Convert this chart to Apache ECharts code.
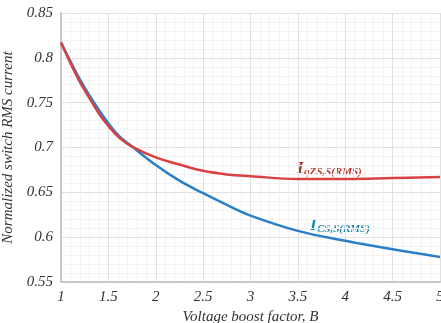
<!DOCTYPE html>
<html><head><meta charset="utf-8">
<script src="https://cdn.jsdelivr.net/npm/echarts@6/dist/echarts.min.js"></script>
<style>html,body{margin:0;padding:0;background:#fff}#c{width:441px;height:323px}</style>
</head><body><div id="c"></div>
<script>
var boost = [1, 1.1, 1.2, 1.3, 1.4, 1.5, 1.62, 1.75, 2, 2.25, 2.5, 2.75, 3, 3.5, 4, 4.5, 5];
var csRms = [0.817, 0.796, 0.776, 0.758, 0.742, 0.727, 0.712, 0.701, 0.6805, 0.663, 0.649, 0.636, 0.624, 0.607, 0.596, 0.5865, 0.578];
var qzsRms = [0.817, 0.794, 0.773, 0.755, 0.738, 0.724, 0.7105, 0.701, 0.689, 0.681, 0.674, 0.670, 0.668, 0.665, 0.665, 0.666, 0.667];
var xTicks = ['1', '1.5', '2', '2.5', '3', '3.5', '4', '4.5', '5'];
var yTicks = ['0.55', '0.6', '0.65', '0.7', '0.75', '0.8', '0.85'];

var font = "'Liberation Serif'";
var chart = echarts.init(document.getElementById('c'));
function pairs(ys) { return boost.map(function (b, i) { return [b, ys[i]]; }); }
function lbl(x, y, size, color, text) {
  return { type: 'text', x: x, y: y, silent: true,
    style: { text: text, fontFamily: font, fontStyle: 'italic', fontWeight: 'bold', fontSize: size,
      fill: color, verticalAlign: 'bottom', align: 'left' } };
}
chart.setOption({
  animation: false,
  grid: { left: 61, right: 1, top: 13, bottom: 41, outerBoundsMode: 'none', containLabel: false },
  xAxis: {
    type: 'value', min: 1, max: 5, interval: 0.5,
    name: 'Voltage boost factor, B', nameLocation: 'middle', nameGap: 25,
    nameTextStyle: { fontFamily: font, fontStyle: 'italic', fontSize: 15, color: '#333' },
    axisLine: { show: true, lineStyle: { color: '#c8c8c8', width: 2 } },
    axisTick: { show: false },
    axisLabel: { fontFamily: font, fontStyle: 'italic', fontSize: 15, color: '#333', margin: 8,
      formatter: function (v) { var i = Math.round((v - 1) / 0.5); return xTicks[i]; } },
    splitLine: { show: true, lineStyle: { color: '#e0e0e0', width: 1 } },
    minorTick: { show: false, splitNumber: 5 },
    minorSplitLine: { show: true, lineStyle: { color: '#f2f2f2', width: 1 } }
  },
  yAxis: {
    type: 'value', min: 0.55, max: 0.85, interval: 0.05,
    name: 'Normalized switch RMS current', nameLocation: 'middle', nameGap: 40,
    nameTextStyle: { fontFamily: font, fontStyle: 'italic', fontSize: 15, color: '#333' },
    axisLine: { show: true, lineStyle: { color: '#c8c8c8', width: 2 } },
    axisTick: { show: false },
    axisLabel: { fontFamily: font, fontStyle: 'italic', fontSize: 15, color: '#333', margin: 8,
      formatter: function (v) { var i = Math.round((v - 0.55) / 0.05); return yTicks[i]; } },
    splitLine: { show: true, lineStyle: { color: '#e0e0e0', width: 1 } },
    minorTick: { show: false, splitNumber: 5 },
    minorSplitLine: { show: true, lineStyle: { color: '#f2f2f2', width: 1 } }
  },
  series: [
    { type: 'line', data: pairs(csRms), smooth: 0.4, symbol: 'none',
      lineStyle: { color: '#2b7fc6', width: 2.5 } },
    { type: 'line', data: pairs(qzsRms), smooth: 0.4, symbol: 'none',
      lineStyle: { color: '#db4040', width: 2.5 } }
  ],
  graphic: [
    lbl(297, 177, 17, '#b5352c', 'I'),
    lbl(304, 178, 11, '#b5352c', 'qZS,S(RMS)'),
    lbl(310, 234, 17, '#1e86ab', 'I'),
    lbl(317, 235, 11, '#1e86ab', 'CS,S(RMS)')
  ]
});
</script></body></html>
